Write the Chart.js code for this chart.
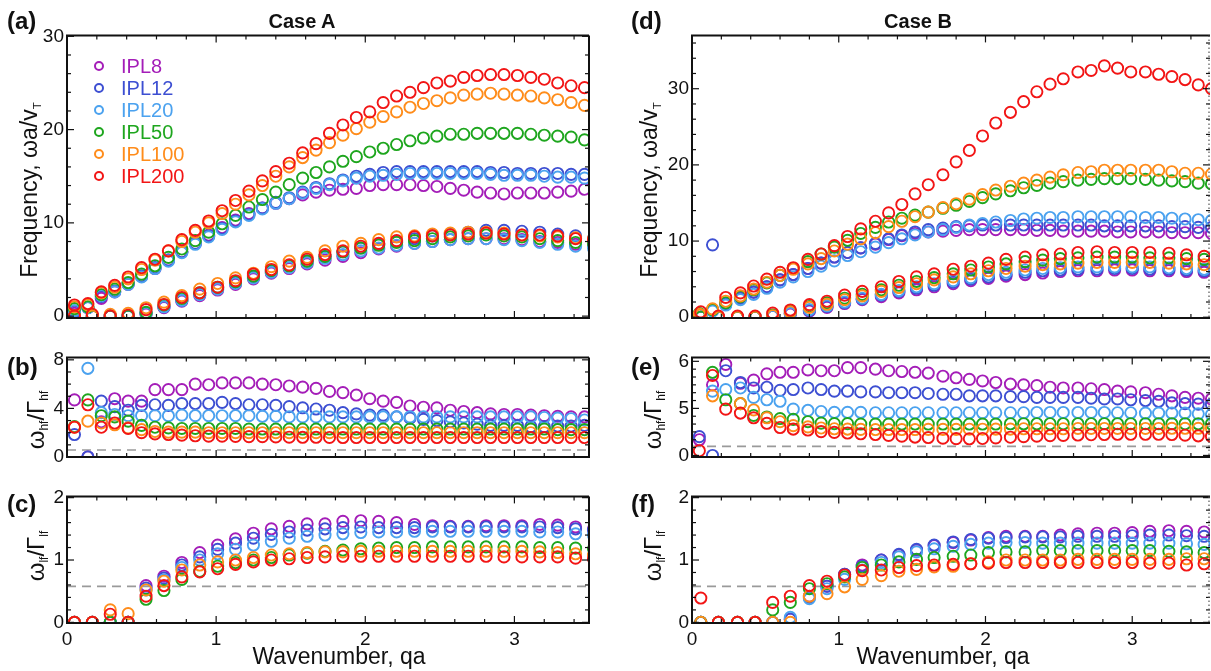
<!DOCTYPE html>
<html>
<head>
<meta charset="utf-8">
<script src="https://cdn.jsdelivr.net/npm/chart.js@4.4.1/dist/chart.umd.min.js"></script>
<style>
  body { margin: 0; width: 1211px; height: 671px; position: relative; overflow: hidden; background: #fff;
         font-family: 'Liberation Sans', Arial, sans-serif; color: #111; }
  canvas { position: absolute; }
  .t { position: absolute; white-space: nowrap; line-height: 1; }
  .tag { font-weight: bold; font-size: 24px; }
  .case { font-weight: bold; font-size: 20px; transform: translateX(-50%); }
  .ylab { font-size: 23px; transform: translate(-50%, -50%) rotate(-90deg); }
  .ylab sub { font-size: 0.5em; vertical-align: -0.35em; }
  .xlab { font-size: 23px; transform: translate(-50%, -50%); }
  .leg { position: absolute; font-size: 20px; line-height: 1; transform: translateY(-50%); }
  .leg i { position: absolute; left: -27px; top: 50%; width: 6px; height: 6px; margin-top: -5px;
           border: 2px solid; border-radius: 50%; }
</style>
</head>
<body>

<canvas id="pa" width="587" height="337" style="left:12px;top:21px"></canvas>
<canvas id="pb" width="587" height="154" style="left:12px;top:343px"></canvas>
<canvas id="pc" width="587" height="181" style="left:12px;top:482px"></canvas>
<canvas id="pd" width="583" height="337" style="left:637px;top:21px"></canvas>
<canvas id="pe" width="583" height="154" style="left:637px;top:343px"></canvas>
<canvas id="pf" width="583" height="181" style="left:637px;top:482px"></canvas>

<div class="t tag" style="left:7px;top:9px">(a)</div>
<div class="t tag" style="left:7px;top:355px">(b)</div>
<div class="t tag" style="left:7px;top:492px">(c)</div>
<div class="t tag" style="left:631px;top:9px">(d)</div>
<div class="t tag" style="left:631px;top:355px">(e)</div>
<div class="t tag" style="left:631px;top:492px">(f)</div>
<div class="t case" style="left:302px;top:11px">Case A</div>
<div class="t case" style="left:918px;top:11px">Case B</div>

<div class="t ylab" style="left:31px;top:190px">Frequency, ωa/v<sub>T</sub></div>
<div class="t ylab" style="left:651px;top:190px">Frequency, ωa/v<sub>T</sub></div>
<div class="t ylab" style="left:37px;top:420px;font-size:24px">ω<sub>hf</sub>/Γ<sub>hf</sub></div>
<div class="t ylab" style="left:654px;top:420px;font-size:24px">ω<sub>hf</sub>/Γ<sub>hf</sub></div>
<div class="t ylab" style="left:37px;top:556px;font-size:24px">ω<sub>lf</sub>/Γ<sub>lf</sub></div>
<div class="t ylab" style="left:654px;top:556px;font-size:24px">ω<sub>lf</sub>/Γ<sub>lf</sub></div>
<div class="t xlab" style="left:339px;top:656px">Wavenumber, qa</div>
<div class="t xlab" style="left:943px;top:656px">Wavenumber, qa</div>

<div id="legend"></div>

<script>
// wavenumber samples (upper / lower branch), Case A and Case B
const qaHfA = [0.05,0.14,0.23,0.32,0.41,0.50,0.59,0.68,0.77,0.86,0.95,1.04,1.13,1.22,1.31,1.40,1.49,1.58,1.67,1.76,1.85,1.94,2.03,2.12,2.21,2.30,2.39,2.48,2.57,2.66,2.75,2.84,2.93,3.02,3.11,3.20,3.29,3.38,3.47];
const qaLfA = [0.05,0.17,0.29,0.41,0.53,0.65,0.77,0.89,1.01,1.13,1.25,1.37,1.49,1.61,1.73,1.85,1.97,2.09,2.21,2.33,2.45,2.57,2.69,2.81,2.93,3.05,3.17,3.29,3.41,3.53];
const qaHfB = [0.05,0.14,0.23,0.33,0.42,0.51,0.60,0.69,0.79,0.88,0.97,1.06,1.15,1.25,1.34,1.43,1.52,1.61,1.71,1.80,1.89,1.98,2.07,2.17,2.26,2.35,2.44,2.53,2.63,2.72,2.81,2.90,2.99,3.09,3.18,3.27,3.36,3.45,3.54];
const qaLfB = [0.06,0.18,0.31,0.43,0.55,0.67,0.80,0.92,1.04,1.16,1.29,1.41,1.53,1.65,1.78,1.90,2.02,2.14,2.27,2.39,2.51,2.63,2.76,2.88,3.00,3.12,3.25,3.37,3.49];

const ipl = ['IPL8', 'IPL12', 'IPL20', 'IPL50', 'IPL100', 'IPL200'];
const colors = ['#a41db8', '#3d4fd2', '#4ba2ef', '#1ea61e', '#ff8c1a', '#f21515'];
const dashLevel = 0.577;

// tick labels
const qaTicks = [0, 1, 2, 3];
const freqTicks = [0, 10, 20, 30];
const hfTicksA = [0, 4, 8];
const hfTicksB = [0, 3, 6];
const hfTickTextB = ['0', '5', '6'];
const lfTicks = [0, 1, 2];

// (a) Case A frequency, upper branch
const aHi8   = [0.3,0.9,1.9,2.6,3.4,4.3,5.1,6.0,6.9,7.8,8.7,9.5,10.3,11.0,11.6,12.1,12.6,13.0,13.3,13.5,13.6,13.7,14.0,14.1,14.1,14.1,14.0,13.9,13.7,13.5,13.3,13.2,13.1,13.2,13.2,13.2,13.3,13.4,13.6];
const aHi12  = [0.5,0.9,2.1,2.7,3.5,4.3,5.2,6.0,6.9,7.8,8.6,9.4,10.2,10.9,11.6,12.2,12.7,13.3,13.8,14.2,14.6,15.0,15.2,15.4,15.5,15.5,15.5,15.5,15.5,15.5,15.5,15.4,15.4,15.3,15.3,15.3,15.3,15.2,15.2];
const aHi20  = [0.6,0.9,2.2,2.6,3.4,4.2,5.1,5.9,6.8,7.7,8.5,9.3,10.1,10.8,11.5,12.1,12.6,13.2,13.7,14.1,14.5,14.8,15.0,15.1,15.2,15.3,15.3,15.3,15.3,15.3,15.3,15.2,15.1,15.1,15.1,15.0,14.9,14.9,14.8];
const aHi50  = [0.8,1.0,2.3,2.9,3.6,4.5,5.4,6.3,7.2,8.1,9.0,9.9,10.8,11.7,12.5,13.3,14.1,14.8,15.4,16.0,16.6,17.1,17.6,18.0,18.4,18.8,19.1,19.3,19.5,19.5,19.6,19.6,19.6,19.6,19.5,19.4,19.3,19.2,18.9];
const aHi100 = [1.0,1.2,2.5,3.1,4.0,5.0,6.0,7.0,8.0,9.0,10.0,11.0,12.0,13.0,14.0,15.0,16.0,17.0,17.8,18.6,19.4,20.1,20.8,21.4,21.9,22.4,22.8,23.1,23.4,23.7,23.8,23.9,23.8,23.7,23.6,23.4,23.2,22.9,22.6];
const aHi200 = [1.2,1.35,2.6,3.3,4.2,5.2,6.1,7.0,8.2,9.2,10.2,11.3,12.4,13.4,14.5,15.5,16.4,17.5,18.5,19.6,20.5,21.3,21.9,22.9,23.6,24.0,24.5,25.0,25.2,25.6,25.8,25.9,25.9,25.8,25.6,25.4,25.0,24.7,24.5];
// (a) lower branch
const aLo8   = [0,0,0,0,0.2,0.9,1.6,2.2,2.8,3.4,4.0,4.6,5.1,5.6,6.0,6.4,6.8,7.2,7.5,7.8,8.0,8.2,8.3,8.3,8.3,8.2,8.0,7.9,7.7,7.6];
const aLo12  = [0,0,0,0,0.3,1.0,1.7,2.4,3.0,3.6,4.2,4.8,5.4,5.9,6.4,6.9,7.3,7.7,8.0,8.3,8.6,8.8,9.0,9.2,9.2,9.1,9.0,8.8,8.6,8.3];
const aLo20  = [0,0,0,0,0.3,1.0,1.7,2.3,2.9,3.5,4.1,4.7,5.2,5.7,6.2,6.6,7.0,7.3,7.6,7.8,8.0,8.2,8.3,8.3,8.2,8.1,7.9,7.7,7.5,7.3];
const aLo50  = [0,0,0,0,0.4,1.2,1.9,2.5,3.1,3.7,4.3,4.9,5.4,5.9,6.4,6.9,7.3,7.6,7.9,8.1,8.3,8.5,8.6,8.7,8.6,8.5,8.3,8.1,7.9,7.8];
const aLo100 = [0,0,0.2,0.3,0.9,1.5,2.2,2.9,3.5,4.1,4.6,5.3,5.9,6.3,7.0,7.5,7.8,8.2,8.5,8.6,8.8,8.9,9.0,9.0,8.9,8.7,8.6,8.5,8.4,8.3];
const aLo200 = [0,0.2,0,0.1,0.7,1.25,2.0,2.5,3.1,3.8,4.5,5.0,5.5,6.1,6.6,7.0,7.5,7.8,8.1,8.5,8.6,8.7,8.8,8.9,8.8,8.7,8.7,8.6,8.3,8.2];

// (b) Case A, w_hf / Gamma_hf
const b8   = [4.7,0,2.9,4.8,4.6,4.6,5.55,5.55,5.55,6.0,5.95,6.1,6.1,6.1,6.0,5.95,5.85,5.75,5.65,5.4,5.3,5.1,4.8,4.6,4.5,4.2,4.1,4.05,3.85,3.75,3.65,3.55,3.5,3.5,3.45,3.4,3.35,3.3,3.3];
const b12  = [1.85,0,4.6,4.15,3.85,4.25,4.3,4.25,4.4,4.4,4.4,4.5,4.4,4.3,4.3,4.25,4.15,4.05,3.95,3.85,3.65,3.55,3.45,3.45,3.3,3.2,3.1,3.0,2.9,2.8,2.7,2.6,2.6,2.6,2.5,2.5,2.55,2.55,2.6];
const b20  = [null,7.3,3.65,3.5,3.4,3.4,3.4,3.4,3.45,3.4,3.4,3.4,3.4,3.4,3.35,3.35,3.3,3.3,3.3,3.3,3.3,3.3,3.3,3.3,3.3,3.3,3.3,3.3,3.3,3.3,3.3,3.3,3.3,3.3,3.3,3.25,3.2,3.15,3.05];
const b50  = [2.5,4.7,3.4,3.3,2.95,2.6,2.45,2.4,2.35,2.35,2.35,2.35,2.35,2.3,2.3,2.3,2.3,2.3,2.3,2.3,2.3,2.3,2.3,2.3,2.3,2.3,2.3,2.3,2.3,2.3,2.3,2.3,2.3,2.3,2.3,2.3,2.25,2.25,2.25];
const b100 = [2.45,2.95,2.8,2.65,2.4,2.25,2.1,2.05,2.05,2.05,2.0,2.0,2.0,2.0,2.0,2.0,2.0,2.0,2.0,2.0,2.0,2.0,2.0,2.0,2.0,2.0,2.0,2.0,2.0,2.0,2.0,2.0,2.0,2.0,2.0,2.0,2.0,2.0,2.0];
const b200 = [2.45,4.3,2.45,2.8,2.35,2.0,1.9,1.85,1.8,1.75,1.72,1.72,1.7,1.68,1.67,1.65,1.63,1.62,1.62,1.61,1.6,1.6,1.6,1.6,1.6,1.6,1.6,1.6,1.6,1.6,1.6,1.6,1.6,1.6,1.6,1.6,1.6,1.6,1.6];

// (c) Case A, w_lf / Gamma_lf
const c8   = [0,0,0,0,0.59,0.74,0.96,1.12,1.24,1.34,1.43,1.5,1.54,1.58,1.58,1.62,1.63,1.62,1.6,1.57,1.55,1.54,1.54,1.55,1.55,1.55,1.57,1.56,1.53,1.5];
const c12  = [0,0,0,0,0.55,0.71,0.92,1.05,1.17,1.27,1.35,1.41,1.45,1.48,1.5,1.52,1.53,1.52,1.52,1.52,1.53,1.53,1.53,1.53,1.53,1.53,1.53,1.52,1.5,1.48];
const c20  = [0,0,0,0,0.52,0.68,0.88,1.0,1.1,1.17,1.24,1.3,1.35,1.38,1.4,1.42,1.44,1.45,1.45,1.46,1.46,1.46,1.46,1.46,1.46,1.46,1.45,1.45,1.42,1.4];
const c50  = [0,0,0,0,0.37,0.51,0.69,0.82,0.9,0.96,1.0,1.04,1.08,1.11,1.14,1.16,1.18,1.19,1.2,1.2,1.21,1.21,1.21,1.21,1.21,1.21,1.2,1.2,1.19,1.18];
const c100 = [0,0,0.2,0.14,0.52,0.66,0.84,0.92,0.97,1.0,1.04,1.08,1.1,1.12,1.13,1.13,1.14,1.14,1.14,1.14,1.14,1.14,1.14,1.14,1.14,1.14,1.13,1.12,1.1,1.08];
const c200 = [0,0,0.13,0,0.42,0.59,0.73,0.81,0.86,0.93,0.97,1.0,1.02,1.04,1.05,1.06,1.06,1.06,1.06,1.06,1.06,1.06,1.06,1.06,1.05,1.05,1.05,1.05,1.03,1.02];

// (d) Case B frequency, upper branch
const dHi8   = [0.3,0.9,1.7,2.5,3.3,4.0,4.9,5.6,6.4,7.1,7.9,8.5,9.1,9.6,10.2,10.7,11.0,11.2,11.3,11.4,11.5,11.5,11.5,11.5,11.5,11.4,11.4,11.3,11.3,11.3,11.3,11.2,11.2,11.2,11.2,11.1,11.1,11.1,11.0];
const dHi12  = [0.4,9.5,1.8,2.5,3.3,4.0,4.9,5.6,6.4,7.1,7.9,8.5,9.1,9.7,10.3,10.8,11.2,11.5,11.7,11.9,12.0,12.1,12.1,12.1,12.1,12.1,12.1,12.1,12.1,12.1,12.0,12.0,12.0,12.0,12.0,11.9,11.9,11.8,11.8];
const dHi20  = [0.3,0.8,1.6,2.3,3.0,3.8,4.6,5.3,6.0,6.7,7.4,8.1,8.6,9.2,9.8,10.3,10.8,11.2,11.5,11.8,12.1,12.3,12.5,12.7,12.9,13.0,13.1,13.1,13.2,13.2,13.2,13.2,13.2,13.1,13.1,13.0,12.9,12.8,12.7];
const dHi50  = [0.5,1.0,1.9,2.7,3.6,4.5,5.5,6.4,7.3,8.3,9.2,10.1,11.0,11.8,12.5,13.0,13.4,13.8,14.3,14.7,15.2,15.7,16.2,16.6,17.0,17.3,17.6,17.8,18.0,18.1,18.2,18.2,18.2,18.1,18.0,17.9,17.8,17.6,17.5];
const dHi100 = [0.4,1.1,2.1,2.8,3.7,4.6,5.5,6.3,7.0,7.7,8.7,9.6,10.3,11.1,11.9,12.6,13.2,13.8,14.4,14.9,15.5,16.1,16.7,17.2,17.6,18.0,18.4,18.7,19.0,19.1,19.3,19.3,19.3,19.3,19.3,19.1,18.9,18.9,18.8];
const dHi200 = [null,null,2.6,3.2,4.1,5.0,5.9,6.5,7.6,8.3,9.4,10.6,11.6,12.6,13.7,14.8,16.2,17.4,18.7,20.4,21.9,23.8,25.5,26.9,28.3,29.6,30.6,31.3,32.2,32.4,33.0,32.7,32.2,32.2,31.9,31.6,31.2,30.5,30.0];
// (d) lower branch
const dLo8   = [0,0,0,0,0.1,0.4,0.8,1.3,1.8,2.3,2.7,3.2,3.6,4.0,4.4,4.8,5.1,5.4,5.6,5.8,6.0,6.1,6.1,6.2,6.2,6.1,6.1,6.0,5.9];
const dLo12  = [0,0,0,0,0.1,0.5,0.9,1.4,1.9,2.4,2.9,3.4,3.8,4.2,4.6,5.0,5.3,5.6,5.9,6.1,6.2,6.3,6.3,6.4,6.4,6.3,6.3,6.2,6.1];
const dLo20  = [0,0,0,0,0.1,0.5,1.0,1.5,2.0,2.5,3.0,3.5,4.0,4.4,4.8,5.2,5.6,5.9,6.2,6.4,6.5,6.6,6.6,6.6,6.6,6.6,6.5,6.4,6.3];
const dLo50  = [0,0,0,0,0.3,0.8,1.4,1.9,2.5,3.0,3.6,4.2,4.7,5.2,5.7,6.2,6.6,7.0,7.3,7.5,7.7,7.8,7.9,7.9,7.9,7.8,7.8,7.7,7.6];
const dLo100 = [0.3,0,0,0,0.2,0.7,1.3,1.7,2.3,2.8,3.4,3.9,4.4,4.9,5.3,5.7,6.1,6.4,6.7,6.9,7.0,7.1,7.2,7.2,7.2,7.2,7.1,7.0,6.9];
const dLo200 = [0.7,0.15,0.15,0.15,0.55,0.95,1.65,2.1,2.9,3.4,4.0,4.7,5.3,5.7,6.3,6.7,7.1,7.6,7.9,8.2,8.3,8.5,8.6,8.5,8.5,8.5,8.4,8.2,8.0];

// (e) Case B, w_hf / Gamma_hf (read against the axis as drawn)
const e8   = [1.0,4.5,5.8,4.6,4.8,5.2,5.3,5.3,5.45,5.4,5.4,5.6,5.6,5.5,5.4,5.35,5.3,5.25,5.05,4.95,4.85,4.75,4.65,4.55,4.5,4.45,4.35,4.3,4.3,4.25,4.2,4.1,4.05,4.0,3.9,3.8,3.7,3.65,3.6];
const e12  = [1.2,0,5.4,4.65,4.3,4.35,4.15,4.2,4.3,4.2,4.1,4.1,4.05,4.05,4.0,4.0,4.0,3.95,3.9,3.9,3.8,3.8,3.8,3.75,3.75,3.7,3.7,3.7,3.7,3.65,3.6,3.6,3.55,3.5,3.45,3.35,3.3,3.27,3.25];
const e20  = [null,4.1,4.2,4.3,3.7,3.55,3.45,2.95,2.87,2.8,2.75,2.75,2.75,2.72,2.72,2.72,2.72,2.72,2.72,2.72,2.72,2.72,2.72,2.72,2.72,2.74,2.74,2.74,2.74,2.74,2.74,2.72,2.72,2.7,2.7,2.7,2.7,2.65,2.6];
const e50  = [null,5.3,3.55,3.3,2.55,2.45,2.35,2.3,2.15,2.06,2.03,2.03,2.0,2.0,2.0,2.0,2.0,2.0,2.0,2.0,2.0,2.0,2.0,2.02,2.02,2.02,2.02,2.02,2.02,2.02,2.02,2.02,2.02,2.02,2.02,2.02,2.02,2.02,2.02];
const e100 = [null,3.8,null,3.3,2.9,2.4,2.15,1.9,1.82,1.75,1.7,1.68,1.66,1.65,1.65,1.65,1.65,1.66,1.66,1.66,1.67,1.67,1.68,1.68,1.7,1.7,1.7,1.7,1.72,1.72,1.72,1.72,1.72,1.72,1.72,1.73,1.73,1.73,1.73];
const e200 = [0.3,5.1,2.95,2.7,2.4,2.05,1.78,1.68,1.62,1.52,1.47,1.43,1.38,1.33,1.28,1.23,1.17,1.14,1.1,1.07,1.06,1.08,1.12,1.16,1.2,1.23,1.26,1.28,1.3,1.32,1.33,1.35,1.35,1.35,1.35,1.33,1.29,1.25,1.22];

// (f) Case B, w_lf / Gamma_lf
const f8   = [0,0,0,0,0,0.05,0.42,0.58,0.77,0.92,1.0,1.08,1.16,1.23,1.28,1.32,1.36,1.38,1.38,1.38,1.4,1.42,1.43,1.43,1.44,1.46,1.47,1.46,1.45];
const f12  = [0,0,0,0,0,0.05,0.4,0.58,0.77,0.9,1.0,1.09,1.17,1.24,1.29,1.33,1.35,1.36,1.37,1.37,1.37,1.38,1.38,1.38,1.39,1.4,1.4,1.39,1.38];
const f20  = [0,0,0,0,0,0.08,0.38,0.54,0.69,0.84,0.96,1.05,1.13,1.18,1.22,1.25,1.27,1.28,1.28,1.27,1.27,1.27,1.27,1.27,1.27,1.27,1.27,1.26,1.25];
const f50  = [0,0,0,0,0.2,0.32,0.54,0.62,0.73,0.88,0.92,0.97,1.01,1.04,1.06,1.08,1.12,1.13,1.13,1.15,1.15,1.15,1.15,1.15,1.15,1.15,1.14,1.13,1.12];
const f100 = [0,0,0,0,0,0,0.42,0.46,0.57,0.69,0.75,0.82,0.85,0.89,0.9,0.94,0.97,1.0,1.0,1.0,1.0,1.01,1.01,1.01,1.01,1.01,1.01,1.02,1.02];
const f200 = [0.39,0,0,0,0.32,0.42,0.59,0.66,0.76,0.83,0.84,0.88,0.91,0.92,0.93,0.94,0.95,0.96,0.96,0.96,0.96,0.96,0.96,0.96,0.96,0.95,0.95,0.92,0.94];

const FONT = "'Liberation Sans', Arial, sans-serif";

function points(xs, ys) {
  return xs.map((x, i) => ({ x: x, y: ys[i] })).filter(p => p.y !== null);
}

function circles(i, xs, ys) {
  return {
    label: ipl[i],
    data: points(xs, ys),
    showLine: false,
    pointStyle: 'circle',
    pointRadius: 5.6,
    pointHoverRadius: 5.6,
    pointBorderWidth: 1.9,
    borderColor: colors[i],
    pointBackgroundColor: 'rgba(0,0,0,0)',
    order: 5 - i
  };
}

function dashed(xMax) {
  return {
    type: 'line',
    data: [{ x: 0, y: dashLevel }, { x: xMax + 1, y: dashLevel }],
    borderColor: '#9a9a9a',
    borderWidth: 1.6,
    borderDash: [9, 6],
    pointRadius: 0,
    order: 10
  };
}

// frame with inward ticks on all four sides (Mathematica style)
const framePlugin = {
  id: 'frame',
  afterDatasetsDraw(chart, args, o) {
    const { ctx, chartArea: a, scales: { x, y } } = chart;
    ctx.save();
    ctx.strokeStyle = '#111';
    ctx.lineWidth = 1.2;
    const seg = (x1, y1, x2, y2) => { ctx.beginPath(); ctx.moveTo(x1, y1); ctx.lineTo(x2, y2); ctx.stroke(); };
    for (let k = 0; k * o.xMinor <= x.max + 1e-9; k++) {
      const v = k * o.xMinor;
      const len = Math.abs(v / o.xMajor - Math.round(v / o.xMajor)) < 1e-6 ? 7 : 4;
      const px = x.getPixelForValue(v);
      seg(px, a.bottom, px, a.bottom - len);
      seg(px, a.top, px, a.top + len);
    }
    for (let k = Math.ceil(y.min / o.yMinor); k * o.yMinor <= y.max + 1e-9; k++) {
      const v = k * o.yMinor;
      const len = Math.abs(v / o.yMajor - Math.round(v / o.yMajor)) < 1e-6 ? 7 : 4;
      const py = y.getPixelForValue(v);
      seg(a.left, py, a.left + len, py);
      seg(a.right, py, a.right - len, py);
    }
    ctx.lineWidth = 2;
    ctx.beginPath();
    ctx.moveTo(a.right, a.top);
    ctx.lineTo(a.left, a.top);
    ctx.lineTo(a.left, a.bottom);
    ctx.lineTo(a.right, a.bottom);
    if (!o.dotted) ctx.lineTo(a.right, a.top);
    ctx.stroke();
    if (o.dotted) {
      ctx.lineWidth = 1.2;
      ctx.strokeStyle = '#555';
      ctx.setLineDash([1.5, 2.5]);
      seg(a.right - 1, a.top, a.right - 1, a.bottom);
    }
    ctx.restore();
  }
};

function panel(id, p) {
  const ctx = document.getElementById(id).getContext('2d');
  return new Chart(ctx, {
    type: 'scatter',
    data: { datasets: p.datasets },
    options: {
      responsive: false,
      animation: false,
      events: [],
      layout: { padding: { left: 0, right: 10, top: 12, bottom: 12 } },
      plugins: { legend: { display: false }, tooltip: { enabled: false }, frame: p.frame },
      scales: {
        x: {
          type: 'linear',
          min: 0,
          max: p.xMax,
          display: p.showX,
          afterBuildTicks: s => { s.ticks = qaTicks.map(v => ({ value: v })); },
          afterFit: s => { s.height = 28; },
          grid: { display: false, drawTicks: false },
          border: { display: false },
          ticks: { autoSkip: false, maxRotation: 0, padding: 5, color: '#111', font: { family: FONT, size: 19 } }
        },
        y: {
          type: 'linear',
          min: p.yMin,
          max: p.yMax,
          afterBuildTicks: s => { s.ticks = p.yTicks.map(v => ({ value: v })); },
          afterFit: s => { s.width = 55; },
          grid: { display: false, drawTicks: false },
          border: { display: false },
          ticks: {
            autoSkip: false, padding: 3, color: '#111', font: { family: FONT, size: 19 },
            callback: p.yText || (v => String(v))
          }
        }
      }
    },
    plugins: [framePlugin]
  });
}

const hiA = [aHi8, aHi12, aHi20, aHi50, aHi100, aHi200];
const loA = [aLo8, aLo12, aLo20, aLo50, aLo100, aLo200];
const hiB = [dHi8, dHi12, dHi20, dHi50, dHi100, dHi200];
const loB = [dLo8, dLo12, dLo20, dLo50, dLo100, dLo200];
const hfA = [b8, b12, b20, b50, b100, b200];
const lfA = [c8, c12, c20, c50, c100, c200];
const hfB = [e8, e12, e20, e50, e100, e200];
const lfB = [f8, f12, f20, f50, f100, f200];

const xMaxA = 3.5, xMaxB = 3.53;

panel('pa', {
  datasets: hiA.map((s, i) => circles(i, qaHfA, s)).concat(loA.map((s, i) => circles(i, qaLfA, s))),
  xMax: xMaxA, yMin: -0.2, yMax: 30.1, yTicks: freqTicks, showX: false,
  frame: { xMinor: 0.2, xMajor: 1, yMinor: 2, yMajor: 10 }
});
panel('pb', {
  datasets: [dashed(xMaxA)].concat(hfA.map((s, i) => circles(i, qaHfA, s))),
  xMax: xMaxA, yMin: 0, yMax: 8.2, yTicks: hfTicksA, showX: false,
  frame: { xMinor: 0.2, xMajor: 1, yMinor: 1, yMajor: 4 }
});
panel('pc', {
  datasets: [dashed(xMaxA)].concat(lfA.map((s, i) => circles(i, qaLfA, s))),
  xMax: xMaxA, yMin: -0.01, yMax: 2.02, yTicks: lfTicks, showX: true,
  frame: { xMinor: 0.2, xMajor: 1, yMinor: 0.2, yMajor: 1 }
});
panel('pd', {
  datasets: hiB.map((s, i) => circles(i, qaHfB, s)).concat(loB.map((s, i) => circles(i, qaLfB, s))),
  xMax: xMaxB, yMin: -0.1, yMax: 37, yTicks: freqTicks, showX: false,
  frame: { xMinor: 0.2, xMajor: 1, yMinor: 2, yMajor: 10, dotted: true }
});
panel('pe', {
  datasets: [dashed(xMaxB)].concat(hfB.map((s, i) => circles(i, qaHfB, s))),
  xMax: xMaxB, yMin: -0.1, yMax: 6.25, yTicks: hfTicksB, showX: false,
  yText: v => hfTickTextB[hfTicksB.indexOf(v)],
  frame: { xMinor: 0.2, xMajor: 1, yMinor: 0.5, yMajor: 3, dotted: true }
});
panel('pf', {
  datasets: [dashed(xMaxB)].concat(lfB.map((s, i) => circles(i, qaLfB, s))),
  xMax: xMaxB, yMin: -0.01, yMax: 2.02, yTicks: lfTicks, showX: true,
  frame: { xMinor: 0.2, xMajor: 1, yMinor: 0.2, yMajor: 1, dotted: true }
});

// legend inside panel (a)
const legend = document.getElementById('legend');
ipl.forEach((name, i) => {
  const row = document.createElement('div');
  row.className = 'leg';
  row.style.left = '121px';
  row.style.top = (66 + i * 22) + 'px';
  row.style.color = colors[i];
  row.innerHTML = '<i style="border-color:' + colors[i] + '"></i>' + name;
  legend.appendChild(row);
});
</script>
</body>
</html>
